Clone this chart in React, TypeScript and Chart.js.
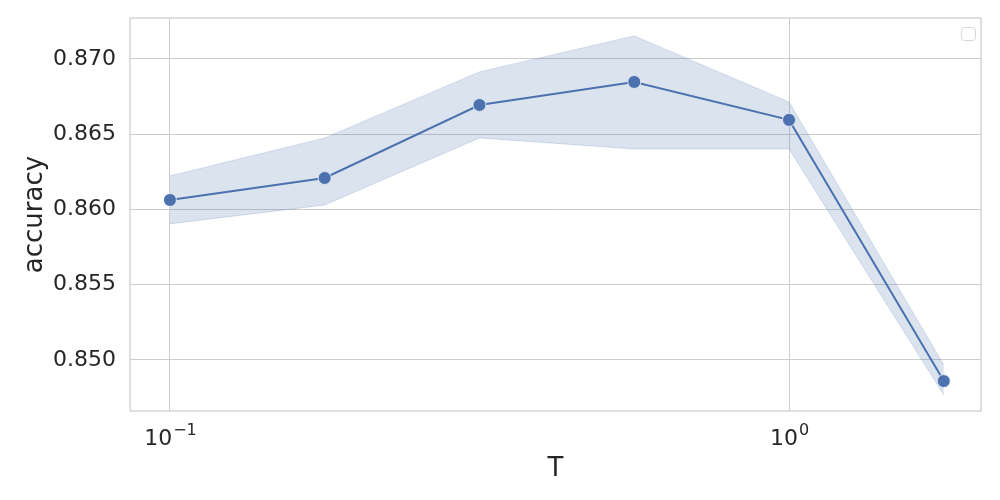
import React, { useEffect, useRef } from "react";
import { Chart, registerables } from "chart.js";

Chart.register(...registerables);

const tValues = [0.1, 0.1778, 0.3162, 0.5623, 1.0, 1.7783];
const meanAcc = [0.86063, 0.86209, 0.86694, 0.86847, 0.86595, 0.8486];
const upperAcc = [0.86223, 0.86475, 0.86914, 0.87153, 0.86714, 0.84967];
const lowerAcc = [0.85904, 0.8603, 0.86475, 0.86402, 0.86402, 0.84767];
const xTicks = [0.1, 1];
const xTickBase = "10";
const xTickExponents = ["−1", "0"];
const yTicks = [0.85, 0.855, 0.86, 0.865, 0.87];

const BLUE = "#4c72b0";
const BAND = "rgba(76,114,176,0.2)";
const GRID = "#cccccc";
const TEXT = "#262626";
const FONT = "'DejaVu Sans', sans-serif";

const framePlugin = {
  id: "frame",
  afterDraw(chart: any) {
    const { ctx, chartArea } = chart;
    ctx.save();
    ctx.strokeStyle = GRID;
    ctx.lineWidth = 1.25;
    ctx.strokeRect(chartArea.left, chartArea.top, chartArea.right - chartArea.left, chartArea.bottom - chartArea.top);
    // empty legend box
    const x = chartArea.right - 20;
    const y = chartArea.top + 9;
    ctx.strokeStyle = "#d4d4d4";
    ctx.lineWidth = 1;
    ctx.beginPath();
    ctx.roundRect(x + 0.5, y + 0.5, 14, 13, 3);
    ctx.stroke();

    // log tick labels with superscript exponents
    const xs = chart.scales.x;
    ctx.fillStyle = TEXT;
    ctx.textBaseline = "alphabetic";
    ctx.textAlign = "left";
    xTicks.forEach((v, i) => {
      const px = xs.getPixelForValue(v);
      ctx.font = `22px ${FONT}`;
      const w1 = ctx.measureText(xTickBase).width;
      ctx.font = `16px ${FONT}`;
      const w2 = ctx.measureText(xTickExponents[i]).width;
      const start = px - (w1 + w2) / 2;
      const base = chartArea.bottom + 34;
      ctx.font = `22px ${FONT}`;
      ctx.fillText(xTickBase, start, base);
      ctx.font = `16px ${FONT}`;
      ctx.fillText(xTickExponents[i], start + w1 + 1, base - 10);
    });
    ctx.restore();
  },
};

export default function App() {
  const ref = useRef<HTMLCanvasElement>(null);
  useEffect(() => {
    const mk = (ys: number[]) => tValues.map((x, i) => ({ x, y: ys[i] }));
    const chart = new Chart(ref.current!, {
      type: "line",
      data: {
        datasets: [
          {
            data: mk(upperAcc),
            borderColor: BAND,
            borderWidth: 1,
            backgroundColor: BAND,
            pointRadius: 0,
            fill: false,
          },
          {
            data: mk(lowerAcc),
            borderColor: BAND,
            borderWidth: 1,
            backgroundColor: BAND,
            pointRadius: 0,
            fill: "-1",
          },
          {
            data: mk(meanAcc),
            borderColor: BLUE,
            borderWidth: 2,
            pointRadius: 6.5,
            pointBackgroundColor: BLUE,
            pointBorderColor: "#ffffff",
            pointBorderWidth: 1,
            fill: false,
          },
        ],
      },
      options: {
        animation: false,
        responsive: false,
        maintainAspectRatio: false,
        layout: { padding: { top: 18, right: 19, left: 0, bottom: 0 } },
        plugins: { legend: { display: false }, tooltip: { enabled: false } },
        scales: {
          x: {
            type: "logarithmic",
            min: 0.0862,
            max: 2.042,
            afterBuildTicks: (s: any) => {
              s.ticks = xTicks.map((v) => ({ value: v }));
            },
            afterFit: (s: any) => {
              s.height = 89;
              s.paddingLeft = 0;
              s.paddingRight = 0;
            },
            ticks: {
              autoSkip: false,
              maxRotation: 0,
              padding: 13,
              color: TEXT,
              font: { family: FONT, size: 22 },
              callback: () => "",
            },
            grid: { color: GRID, lineWidth: 1, drawTicks: false },
            border: { display: false },
            title: {
              display: true,
              text: "T",
              color: TEXT,
              font: { family: FONT, size: 26 },
              padding: { top: 0, bottom: 15 },
            },
          },
          y: {
            type: "linear",
            min: 0.84661,
            max: 0.87272,
            afterBuildTicks: (s: any) => {
              s.ticks = yTicks.map((v) => ({ value: v }));
            },
            afterFit: (s: any) => {
              s.width = 130;
              s.paddingTop = 0;
              s.paddingBottom = 0;
            },
            ticks: {
              padding: 14,
              color: TEXT,
              font: { family: FONT, size: 22 },
              callback: (v: any) => Number(v).toFixed(3),
            },
            grid: { color: GRID, lineWidth: 1, drawTicks: false },
            border: { display: false },
            title: {
              display: true,
              text: "accuracy",
              color: TEXT,
              font: { family: FONT, size: 26 },
              padding: { top: 20, bottom: 0 },
            },
          },
        },
      },
      plugins: [framePlugin],
    });
    return () => chart.destroy();
  }, []);
  return (
    <div style={{ position: "fixed", left: 0, top: 0, width: 1000, height: 500, background: "#fff" }}>
      <canvas ref={ref} width={1000} height={500} />
    </div>
  );
}
